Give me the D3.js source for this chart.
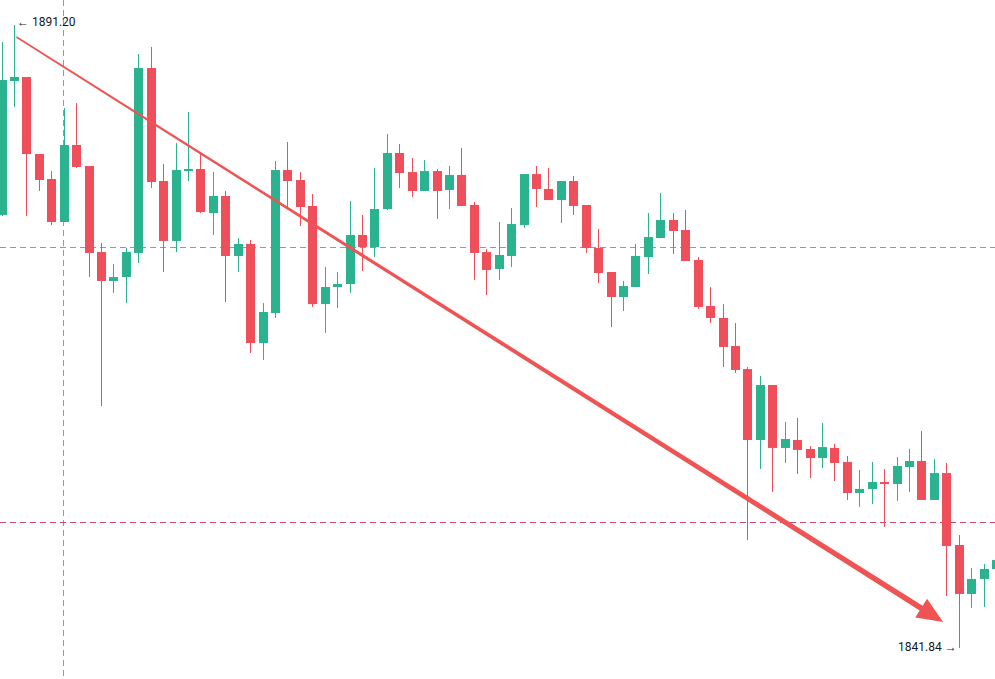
<!DOCTYPE html>
<html>
<head>
<meta charset="utf-8">
<script src="https://cdn.jsdelivr.net/npm/d3@7/dist/d3.min.js"></script>
<style>
  html, body { margin: 0; padding: 0; background: #ffffff; }
  svg { display: block; font-family: "Roboto", "Noto Sans", sans-serif; }
</style>
</head>
<body>
<div id="chart"></div>
<script>
// candle values (index 0 = left edge)
var opens = [1876.15, 1886.76, 1887.08, 1880.98, 1879.00, 1875.59, 1881.69, 1880.03, 1873.21, 1870.92,
  1871.23, 1873.14, 1887.79, 1878.84, 1874.09, 1879.63, 1879.79, 1876.30, 1877.65, 1872.90,
  1873.85, 1866.00, 1868.38, 1879.71, 1878.92, 1876.86, 1869.09, 1870.44, 1870.68, 1874.56,
  1873.61, 1876.62, 1881.06, 1879.55, 1878.05, 1879.63, 1878.13, 1879.32, 1876.94, 1873.21,
  1871.87, 1872.90, 1875.35, 1879.39, 1878.21, 1877.33, 1878.84, 1876.94, 1873.53, 1871.63,
  1869.65, 1870.44, 1872.82, 1874.32, 1875.75, 1874.96, 1872.58, 1868.94, 1867.99, 1865.77,
  1863.94, 1858.32, 1862.68, 1857.69, 1858.32, 1857.61, 1856.89, 1857.69, 1856.58, 1854.12,
  1854.44, 1854.99, 1854.83, 1856.18, 1856.66, 1853.57, 1855.70, 1850.00, 1846.12, 1847.31,
  1848.10];
var highs = [1889.85, 1891.20, 1887.08, 1880.98, 1879.63, 1884.62, 1885.02, 1880.03, 1873.93, 1872.26,
  1873.53, 1888.90, 1889.46, 1880.19, 1881.85, 1884.31, 1880.98, 1879.55, 1878.05, 1874.32,
  1874.17, 1869.17, 1880.42, 1881.93, 1879.55, 1877.81, 1872.03, 1871.63, 1877.26, 1876.15,
  1879.87, 1882.56, 1881.77, 1880.66, 1880.50, 1879.79, 1880.03, 1881.46, 1877.18, 1873.45,
  1875.59, 1876.70, 1879.39, 1880.03, 1879.87, 1878.84, 1879.24, 1876.94, 1875.04, 1871.63,
  1870.92, 1873.85, 1876.30, 1877.89, 1876.30, 1876.54, 1872.82, 1870.44, 1869.09, 1867.59,
  1864.10, 1863.39, 1862.68, 1859.75, 1860.06, 1857.84, 1859.67, 1858.00, 1857.05, 1855.94,
  1856.58, 1856.02, 1856.97, 1857.61, 1859.03, 1856.81, 1856.50, 1850.79, 1848.18, 1848.49,
  1849.13];
var lows = [1876.07, 1884.70, 1876.07, 1878.05, 1875.35, 1875.59, 1879.87, 1871.23, 1861.01, 1869.97,
  1869.17, 1872.34, 1878.29, 1871.63, 1873.21, 1878.84, 1876.30, 1874.56, 1869.25, 1871.63,
  1865.21, 1864.66, 1867.99, 1876.78, 1875.27, 1868.86, 1866.80, 1868.78, 1869.97, 1871.71,
  1872.82, 1876.54, 1878.29, 1877.57, 1878.05, 1875.83, 1876.62, 1876.86, 1871.00, 1869.81,
  1871.00, 1872.03, 1875.12, 1876.78, 1877.33, 1875.51, 1876.15, 1873.14, 1870.76, 1867.27,
  1868.54, 1870.44, 1871.47, 1874.32, 1873.06, 1872.50, 1868.70, 1867.59, 1864.10, 1863.63,
  1850.40, 1856.02, 1854.20, 1856.50, 1855.63, 1855.31, 1856.10, 1855.07, 1853.57, 1853.01,
  1853.25, 1851.43, 1853.49, 1854.20, 1853.57, 1853.57, 1845.96, 1841.84, 1845.01, 1845.09,
  1847.70];
var closes = [1886.84, 1887.08, 1880.98, 1878.92, 1875.59, 1881.69, 1879.95, 1873.14, 1870.92, 1871.23,
  1873.21, 1887.79, 1878.76, 1874.09, 1879.71, 1879.79, 1876.38, 1877.65, 1872.90, 1873.85,
  1866.00, 1868.46, 1879.71, 1878.84, 1876.78, 1869.09, 1870.44, 1870.68, 1874.56, 1873.61,
  1876.62, 1881.06, 1879.47, 1878.05, 1879.63, 1878.05, 1879.32, 1876.86, 1873.14, 1871.79,
  1872.98, 1875.43, 1879.39, 1878.21, 1877.33, 1878.84, 1876.86, 1873.53, 1871.55, 1869.65,
  1870.52, 1872.90, 1874.40, 1875.75, 1874.88, 1872.50, 1868.86, 1867.99, 1865.69, 1863.87,
  1858.32, 1862.68, 1857.69, 1858.40, 1857.53, 1856.89, 1857.76, 1856.50, 1854.12, 1854.44,
  1854.99, 1854.83, 1856.26, 1856.66, 1853.57, 1855.70, 1849.92, 1846.12, 1847.31, 1848.10,
  1848.81];

// drawn objects
var arrowFrom = [1.2, 1890.25];   // [bar index, price]
var arrowTo = [75.75, 1843.90];
var crossBar = 4.95;
var crossPrice = 1873.61;
var priceLine = 1851.82;
var hiLabel = "1891.20";
var loLabel = "1841.84";

var width = 995, height = 679;
var upColor = "#2bb28e", downColor = "#ef4f5a";

var svg = d3.select("#chart").append("svg")
  .attr("width", width)
  .attr("height", height);

var x = d3.scaleLinear().domain([0, 80]).range([1.5, 996]);
var y = d3.scaleLinear().domain([1841.84, 1891.20]).range([648, 25]);

var candles = opens.map(function(o, i) {
  return {i: i, o: o, h: highs[i], l: lows[i], c: closes[i]};
});

// crosshair + price line
svg.append("line")
  .attr("x1", 0).attr("x2", width)
  .attr("y1", Math.round(y(crossPrice)) + 0.5).attr("y2", Math.round(y(crossPrice)) + 0.5)
  .attr("stroke", "#9598a1").attr("stroke-dasharray", "6,4");
svg.append("line")
  .attr("x1", Math.round(x(crossBar)) + 0.5).attr("x2", Math.round(x(crossBar)) + 0.5)
  .attr("y1", 0).attr("y2", height)
  .attr("stroke", "#9598a1").attr("stroke-dasharray", "6,4");
svg.append("line")
  .attr("x1", 0).attr("x2", width)
  .attr("y1", Math.round(y(priceLine)) + 0.5).attr("y2", Math.round(y(priceLine)) + 0.5)
  .attr("stroke", "#c8457a").attr("stroke-dasharray", "6,4");

var bodyW = 9;

// wicks
svg.selectAll(".wick")
  .data(candles)
  .enter().append("line")
  .attr("class", "wick")
  .attr("x1", function(d) { return Math.round(x(d.i)) + 0.5; })
  .attr("x2", function(d) { return Math.round(x(d.i)) + 0.5; })
  .attr("y1", function(d) { return y(d.h); })
  .attr("y2", function(d) { return y(d.l); })
  .attr("stroke", function(d) { return d.c >= d.o ? upColor : downColor; })
  .attr("stroke-width", 1);

// bodies
svg.selectAll(".body")
  .data(candles)
  .enter().append("rect")
  .attr("class", "body")
  .attr("x", function(d) { return Math.round(x(d.i)) + 0.5 - bodyW / 2; })
  .attr("width", bodyW)
  .attr("y", function(d) { return y(Math.max(d.o, d.c)); })
  .attr("height", function(d) { return Math.max(2, Math.abs(y(d.o) - y(d.c))); })
  .attr("fill", function(d) { return d.c >= d.o ? upColor : downColor; });

// tapered arrow
var ax0 = x(arrowFrom[0]), ay0 = y(arrowFrom[1]);
var ax1 = x(arrowTo[0]), ay1 = y(arrowTo[1]);
var len = Math.hypot(ax1 - ax0, ay1 - ay0);
var ux = (ax1 - ax0) / len, uy = (ay1 - ay0) / len;
var nx = -uy, ny = ux;
var headLen = 26, headHalf = 11;
var bx = ax1 - ux * headLen, by = ay1 - uy * headLen;
var w0 = 0.8, w1 = 2.8;
var pts = [
  [ax0 + nx * w0, ay0 + ny * w0],
  [bx + nx * w1, by + ny * w1],
  [bx + nx * headHalf, by + ny * headHalf],
  [ax1, ay1],
  [bx - nx * headHalf, by - ny * headHalf],
  [bx - nx * w1, by - ny * w1],
  [ax0 - nx * w0, ay0 - ny * w0]
];
svg.append("path")
  .attr("d", d3.line()(pts) + "Z")
  .attr("fill", "#f05353");

// high / low labels
svg.append("text")
  .attr("x", x(1) + 3).attr("y", y(1891.20) - 2)
  .attr("font-size", 12).attr("fill", "#131722")
  .attr("dominant-baseline", "middle")
  .text("\u2190 " + hiLabel);
svg.append("text")
  .attr("x", x(77) - 2).attr("y", y(1841.84))
  .attr("font-size", 12).attr("fill", "#131722")
  .attr("text-anchor", "end")
  .attr("dominant-baseline", "middle")
  .text(loLabel + " \u2192");
</script>
</body>
</html>
